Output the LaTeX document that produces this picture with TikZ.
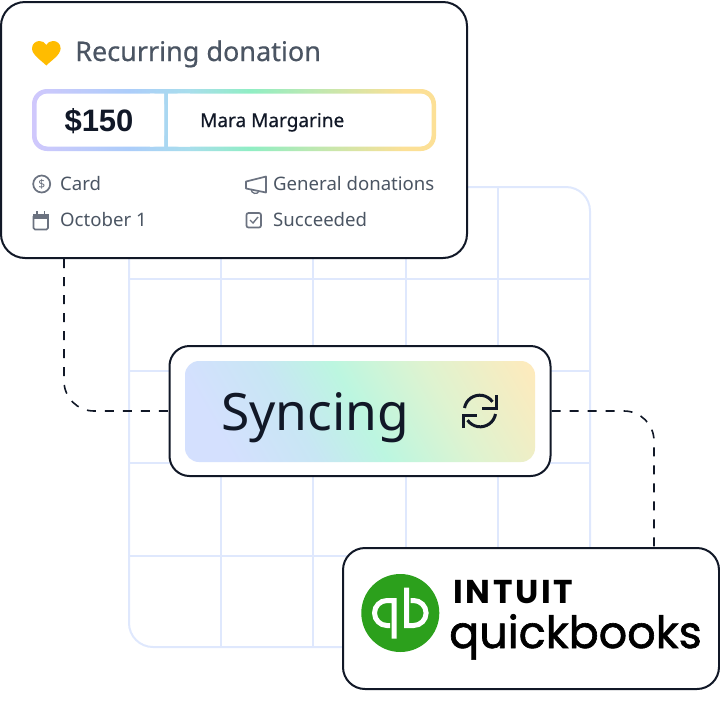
\documentclass[tikz,border=0pt]{standalone}
\usepackage{fontspec}
\setmainfont{Noto Sans}
\newfontfamily\logofont{Poppins}[FakeBold=1.4]
\newfontfamily\capsfont{Poppins}
\newfontfamily\midfont{Noto Sans}[FakeBold=0.5]
\newfontfamily\amountfont{Liberation Sans}
\usetikzlibrary{positioning}
\definecolor{inkdark}{HTML}{111827}
\definecolor{inkgrey}{HTML}{4B5563}
\definecolor{icongrey}{HTML}{6B7280}
\definecolor{gridblue}{HTML}{DFE8FD}
\definecolor{heartyellow}{HTML}{FFBC00}
\definecolor{qbgreen}{HTML}{2CA01C}
\definecolor{pillA}{RGB}{208,200,252}
\definecolor{pillB}{RGB}{172,205,250}
\definecolor{pillC}{RGB}{168,222,236}
\definecolor{pillD}{RGB}{144,238,196}
\definecolor{pillE}{RGB}{252,224,150}
\definecolor{syncA}{RGB}{212,224,254}
\definecolor{syncB}{RGB}{200,230,244}
\definecolor{syncC}{RGB}{188,246,224}
\definecolor{syncD}{RGB}{222,243,208}
\definecolor{syncE}{RGB}{255,234,188}
\pgfdeclarehorizontalshading{pillshade}{100bp}{
  color(0bp)=(pillA); color(25bp)=(pillA); color(37bp)=(pillB); color(44.5bp)=(pillC);
  color(52bp)=(pillD); color(71bp)=(pillE); color(100bp)=(pillE)}
\pgfdeclarehorizontalshading{syncshade}{100bp}{
  color(0bp)=(syncA); color(24bp)=(syncA); color(38bp)=(syncB); color(50bp)=(syncC);
  color(65bp)=(syncD); color(84bp)=(syncE); color(100bp)=(syncE)}
\tikzset{
  panel/.style={draw=inkdark, line width=2pt, fill=white, rounded corners=#1, inner sep=0pt},
  rowtext/.style={anchor=base west, inner sep=0pt, text=inkgrey, font=\fontsize{18.6}{22}\selectfont},
  icon/.style={draw=icongrey, line width=1.7pt},
  syncline/.style={draw=inkdark, dash pattern=on 9pt off 9pt, line width=1.6pt, rounded corners=30pt},
  qbstroke/.style={white, line width=5pt},
  refresh/.style={inkdark, line width=3pt}
}
\begin{document}
\begin{tikzpicture}[x=1pt, y=-1pt]
\useasboundingbox (0,0) rectangle (720,721);
%grid behind
\draw[gridblue, line width=2pt, rounded corners=24pt] (129,187) rectangle (590,647);
\foreach \gx in {221,313,406,498}
  \draw[gridblue, line width=2pt] (\gx,187) -- (\gx,647);
\foreach \gy in {279,371,463,556}
  \draw[gridblue, line width=2pt] (129,\gy) -- (590,\gy);
%panels
\node[panel=24pt, minimum width=466pt, minimum height=256pt] at (234,130) (card) {};
\node[panel=20pt, minimum width=381pt, minimum height=130pt] at (360,411) (sync) {};
\node[panel=22pt, minimum width=376pt, minimum height=141pt] at (531,618.5) (books) {};
%connectors
\draw[syncline] ([xshift=-170pt]card.south) |- (sync.west);
\draw[syncline] (sync.east) -| ([xshift=123pt]books.north);
%card header
\path[fill=heartyellow] (46.3,65.5) .. controls (42,61) and (32,55) .. (32,48.5)
  .. controls (32,43.5) and (36,41) .. (39.5,41) .. controls (42.5,41) and (45,42.5) .. (46.3,45)
  .. controls (47.6,42.5) and (50,41) .. (53,41) .. controls (57,41) and (60.6,43.5) .. (60.6,48.5)
  .. controls (60.6,55) and (50.6,61) .. (46.3,65.5) -- cycle;
\node[anchor=base west, inner sep=0pt, text=inkgrey, font=\midfont\fontsize{27}{30}\selectfont] at (75,61) (title) {Recurring donation};
%amount pill
\path[shading=pillshade, rounded corners=15pt] (32,89) rectangle (436,151);
\path[fill=white, rounded corners=11pt] (36.5,93.5) -- (36.5,146.5) -- (164,146.5) -- (164,93.5) -- cycle;
\path[fill=white, rounded corners=11pt] (168,93.5) -- (168,146.5) -- (431.5,146.5) -- (431.5,93.5) -- cycle;
\path[fill=white] (150,93.5) rectangle (164,146.5) (168,93.5) rectangle (190,146.5);
\node[anchor=base, inner sep=0pt, text=inkdark, font=\amountfont\fontsize{31}{36}\selectfont\bfseries] at (99,131.5) (amount) {\$150};
\node[anchor=base west, inner sep=0pt, text=inkdark, font=\midfont\fontsize{19}{24}\selectfont] at (200,127) (donor) {Mara Margarine};
%rows
\node[rowtext] at (60,190) (method) {Card};
\node[rowtext] at (60,226) (date) {October 1};
\node[rowtext] at (273,190) (fund) {General donations};
\node[rowtext] at (273,226) (state) {Succeeded};
%dollar icon
\node[icon, circle, minimum size=17pt, inner sep=0pt, text=icongrey, font=\fontsize{12}{12}\selectfont] at (41.7,184) (coin) {\$};
%calendar icon
\draw[icon, rounded corners=1.5pt] (33.5,215) rectangle (48,229.5);
\path[fill=icongrey] (33,214) rectangle (48.5,219);
\draw[icon] (37,211) -- (37,214) (44.4,211) -- (44.4,214);
%megaphone icon
\draw[icon, line join=round] (246,181.5) -- (266,176.5) -- (266,192.5) -- (246,188.5) -- cycle;
\draw[icon, line width=1.3pt] (251,189) .. controls (251,194) and (258,195) .. (259,191);
%check icon
\draw[icon, rounded corners=2pt] (246.5,213) rectangle (261,227.5);
\draw[icon, line width=1.4pt] (250,220) -- (253,223) -- (258,217);
%sync box
\path[shading=syncshade, shading angle=30, rounded corners=14pt] (185,361) rectangle (535,462);
\node[anchor=base west, inner sep=0pt, text=inkdark, font=\fontsize{51.5}{56}\selectfont] at (221,430) (synctext) {Syncing};
%refresh icon
\draw[refresh] (464.5,408) arc[start angle=-170, end angle=-35, radius=15.5];
\draw[refresh] (495.5,414) arc[start angle=10, end angle=145, radius=15.5];
\draw[refresh] (496,395) -- (496,408) -- (482,408);
\draw[refresh] (463,428) -- (463,415) -- (477,415);
%quickbooks logo
\node[circle, fill=qbgreen, minimum size=78pt, inner sep=0pt] at (400.3,613) (qbmark) {};
\draw[qbstroke] (390,625.5) -- (387,625.5) arc[start angle=90, end angle=270, radius=12.5] -- (394,600.5) -- (394,638.5);
\draw[qbstroke] (410.6,600.5) -- (413.6,600.5) arc[start angle=-90, end angle=90, radius=12.5] -- (406.6,625.5) -- (406.6,587.5);
\node[anchor=base west, inner sep=0pt, text=black, font=\capsfont\fontsize{33}{36}\selectfont\bfseries] at (453,603) (intuit) {\addfontfeature{LetterSpace=8}INTUIT};
\node[anchor=base west, inner sep=0pt, text=black, font=\logofont\fontsize{44.5}{50}\selectfont] at (449,648) (qbname) {quickbooks};
\end{tikzpicture}
\end{document}
